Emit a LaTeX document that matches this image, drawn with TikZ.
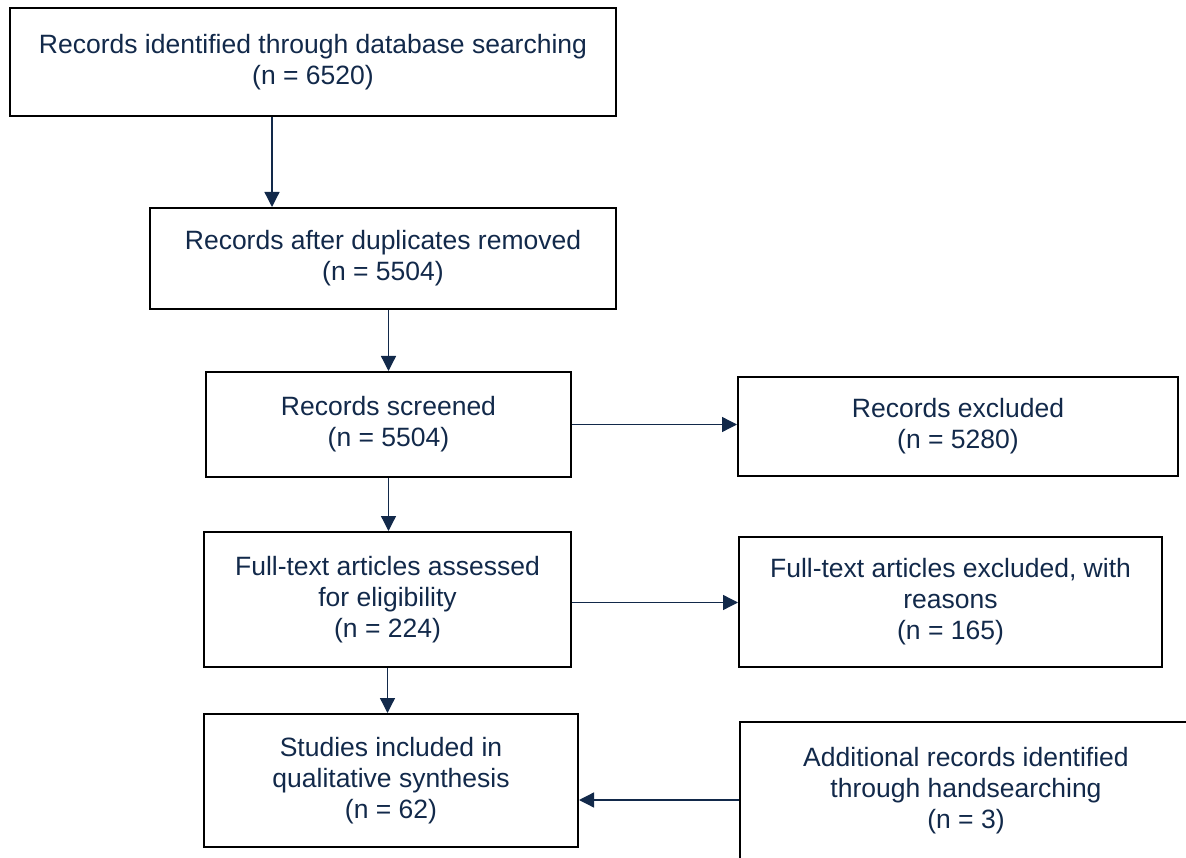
\documentclass[tikz,border=0pt]{standalone}
\usepackage{fontspec}
\setmainfont{Liberation Sans}
\usetikzlibrary{arrows.meta}
\definecolor{navy}{HTML}{12294A}
\tikzstyle{box}=[draw=black,line width=2pt,inner sep=0pt,align=center,text=navy,font=\fontsize{26.5}{31}\selectfont]
\tikzstyle{link}=[draw=navy,line width=1.3pt,-{Triangle[length=15pt,width=15pt]}]

\begin{document}
\begin{tikzpicture}[x=1pt, y=-1pt]
\useasboundingbox (0, 0) rectangle (1186, 858);
\clip (0, 0) rectangle (1186, 858);
\node[box, minimum width=606pt, minimum height=108pt] at (313, 62) (ident) {Records identified through database searching\\(n = 6520)};
\node[box, minimum width=466pt, minimum height=101pt] at (383, 258.5) (dup) {Records after duplicates removed\\(n = 5504)};
\node[box, minimum width=365pt, minimum height=105pt] at (388.5, 424.5) (screen) {Records screened\\(n = 5504)};
\node[box, minimum width=440pt, minimum height=99pt] at (958, 426.5) (excl) {Records excluded\\(n = 5280)};
\node[box, minimum width=367pt, minimum height=135pt] at (387.5, 599.5) (full) {Full-text articles assessed\\for eligibility\\(n = 224)};
\node[box, minimum width=423pt, minimum height=130pt] at (950.5, 602) (fullex) {Full-text articles excluded, with\\reasons\\(n = 165)};
\node[box, minimum width=374pt, minimum height=133pt] at (391, 780.5) (incl) {Studies included in\\qualitative synthesis\\(n = 62)};
\node[box, minimum width=452pt, minimum height=138pt] at (966, 791) (hand) {Additional records identified\\through handsearching\\(n = 3)};
\draw[link] ([xshift=-41pt]ident.south) -- ([xshift=-41pt]ident.south |- dup.north);
\draw[link] (dup.south -| screen.north) -- (screen.north);
\draw[link] (screen.south) -- (screen.south |- full.north);
\draw[link] (full.south) -- (full.south |- incl.north);
\draw[link] (screen.east) -- (screen.east -| excl.west);
\draw[link] ([yshift=-3pt]full.east) -- ([yshift=-3pt]full.east -| fullex.west);
\draw[link] ([yshift=-9pt]hand.west) -- ([yshift=-9pt]hand.west -| incl.east);
\end{tikzpicture}
\end{document}
